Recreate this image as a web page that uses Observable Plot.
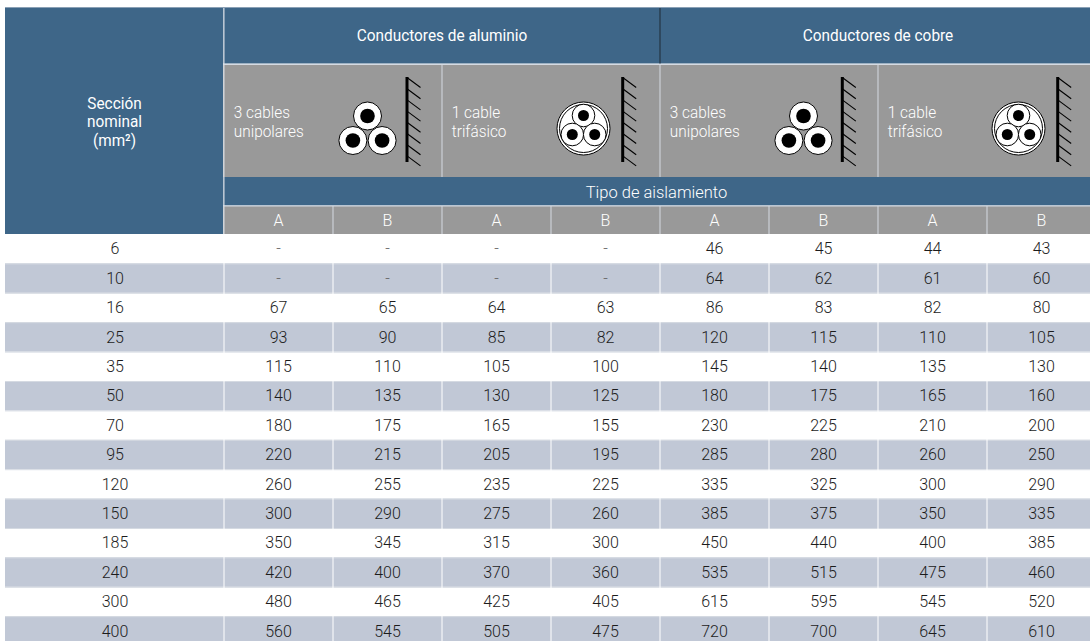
<!DOCTYPE html>
<html lang="es"><head><meta charset="utf-8">
<style>html,body{margin:0;padding:0;background:#fff;overflow:hidden}svg{display:block}</style>
<script src="https://cdn.jsdelivr.net/npm/d3@7"></script>
<script src="https://cdn.jsdelivr.net/npm/@observablehq/plot@0.6"></script>
</head><body><div id="chart"></div>
<script>
// Data
const sections = [6,10,16,25,35,50,70,95,120,150,185,240,300,400];
const aluminio3A = ["-","-",67,93,115,140,180,220,260,300,350,420,480,560];
const aluminio3B = ["-","-",65,90,110,135,175,215,255,290,345,400,465,545];
const aluminio1A = ["-","-",64,85,105,130,165,205,235,275,315,370,425,505];
const aluminio1B = ["-","-",63,82,100,125,155,195,225,260,300,360,405,475];
const cobre3A = [46,64,86,120,145,180,230,285,335,385,450,535,615,720];
const cobre3B = [45,62,83,115,140,175,225,280,325,375,440,515,595,700];
const cobre1A = [44,61,82,110,135,165,210,260,300,350,400,475,545,645];
const cobre1B = [43,60,80,105,130,160,200,250,290,335,385,460,520,610];
const valueColumns = [aluminio3A,aluminio3B,aluminio1A,aluminio1B,cobre3A,cobre3B,cobre1A,cobre1B];
const insulation = ["A","B","A","B","A","B","A","B"];
const groupTitles = ["Conductores de aluminio","Conductores de cobre"];
const panelLabels = ["3 cables\nunipolares","1 cable\ntrifásico","3 cables\nunipolares","1 cable\ntrifásico"];
const sectionTitle = "Sección\nnominal\n(mm²)";
const subTitle = "Tipo de aislamiento";

// Layout: x in column units (one value column = 1), y in table-row units (first row = 0)
const ROW = 29.4, Y0 = 234, COL = 109, X0 = 223.5;
const uy = px => (px - Y0) / ROW;
const ux = px => (px - X0) / COL;
const BLUE = "#3e6688", GREY = "#999999", BAND = "#c1c8d6", LINE = "#d5dae2", TXT = "#1c1c1c";
const FONT = "Roboto";
const yTitle=[uy(7),uy(63.5)], yPanel=[uy(64.5),uy(177)], yTipo=[uy(177),uy(205.5)], yAB=[uy(206),0];

const rows = sections.map((s,i)=>({s,i}));
const cells = rows.flatMap(r=>valueColumns.map((c,j)=>({v:c[r.i],row:r.i,col:j})));
const panels = [0,1,2,3];

// Icons (offsets relative to panel start, in px)
const wallOff = [183,180.7,182.3,179.7];
const wall = [], hatch = [];
panels.forEach(p=>{
  const x0 = X0 + p*2*COL;
  const w = x0 + wallOff[p];
  wall.push({x:ux(w),y1:uy(77),y2:uy(162)});
  d3.range(8).forEach(k=>{ hatch.push({x1:ux(w),x2:ux(w+13.5),y1:uy(77+k*11.2),y2:uy(87+k*11.2)}); });
});
const unip = [], tri = [], triC = [];
[0,2].forEach(p=>{
  const cx = X0 + p*2*COL + 143.5;
  [[0,115.5],[-14.6,140],[14.6,140]].forEach(([dx,y])=>unip.push({x:ux(cx+dx),y:uy(y)}));
});
[1,3].forEach(p=>{
  const cx = X0 + p*2*COL + (p===1?141.5:140.5);
  triC.push({x:ux(cx),y:uy(128)});
  [[0,115],[-11.2,134],[11.2,134]].forEach(([dx,y])=>tri.push({x:ux(cx+dx),y:uy(y)}));
});

const bandRows = rows.filter(r=>r.i%2===1);
const txt = {fontFamily:FONT};
const light = {fontFamily:FONT, fontWeight:300};

const plot = Plot.plot({
  width:1090, height:641, margin:0,
  x:{domain:[ux(0),ux(1090)],range:[0,1090],axis:null},
  y:{domain:[uy(0),uy(641)],range:[0,641],axis:null},
  style:{background:"#fff"},
  marks:[
    // table bands
    Plot.rectY(bandRows,{x1:ux(5),x2:ux(1095),y1:d=>d.i,y2:d=>d.i+1,fill:BAND}),
    Plot.ruleY(bandRows.flatMap(d=>[d.i,d.i+1]),{x1:ux(5),x2:ux(1090),stroke:LINE,strokeWidth:1}),
    Plot.ruleX(d3.range(0,9),{y1:uy(206),y2:uy(641),stroke:"#fff",strokeWidth:1}),
    // header blocks
    Plot.rect([0],{x1:ux(5),x2:ux(223),y1:yTitle[0],y2:0,fill:BLUE}),
    Plot.rect([0],{x1:0,x2:ux(1095),y1:yTitle[0],y2:yTitle[1],fill:BLUE}),
    Plot.rect([0],{x1:0,x2:ux(1095),y1:yPanel[0],y2:yPanel[1],fill:GREY}),
    Plot.rect([0],{x1:0,x2:ux(1095),y1:yTipo[0],y2:yTipo[1],fill:BLUE}),
    Plot.rect([0],{x1:0,x2:ux(1095),y1:yAB[0],y2:0,fill:GREY}),
    // header lines
    Plot.ruleX([0],{y1:yTitle[0],y2:0,stroke:LINE,strokeWidth:1}),
    Plot.ruleX([4],{y1:yTitle[0],y2:yTitle[1],stroke:"#243444",strokeWidth:1.2}),
    Plot.ruleX([2,4,6],{y1:yPanel[0],y2:yPanel[1],stroke:LINE,strokeWidth:1}),
    Plot.ruleX(d3.range(1,8),{y1:yAB[0],y2:0,stroke:LINE,strokeWidth:1}),
    Plot.ruleY([uy(7)],{x1:ux(5),x2:ux(1090),stroke:"#8aa0b5",strokeWidth:1}),
    Plot.ruleY([uy(64)],{x1:0,x2:ux(1090),stroke:LINE,strokeWidth:1}),
    Plot.ruleY([uy(205.5)],{x1:0,x2:ux(1090),stroke:LINE,strokeWidth:1}),
    // header text
    Plot.text([sectionTitle],{x:ux(114),y:uy(121),text:d=>d,fill:"#fff",fontSize:16.5,lineHeight:1.13,...txt}),
    Plot.text(groupTitles,{x:(d,i)=>i?6:2,y:uy(35.5),text:d=>d,fill:"#fff",fontSize:17,...txt}),
    Plot.text(panelLabels,{x:(d,i)=>i*2+0.09,y:uy(121),text:d=>d,textAnchor:"start",fill:"#fff",fontSize:16.5,lineHeight:1.13,...light}),
    Plot.text([subTitle],{x:ux(656),y:uy(192),text:d=>d,fill:"#fff",fontSize:16.5,...light}),
    Plot.text(insulation,{x:(d,i)=>i+0.5,y:uy(220.5),text:d=>d,fill:"#fff",fontSize:16,...light}),
    // icons
    Plot.ruleX(wall,{x:"x",y1:"y1",y2:"y2",stroke:"#000",strokeWidth:3}),
    Plot.link(hatch,{x1:"x1",x2:"x2",y1:"y1",y2:"y2",stroke:"#000",strokeWidth:1.1}),
    Plot.dot(unip,{x:"x",y:"y",r:14,fill:"#fff",stroke:"#000",strokeWidth:1}),
    Plot.dot(unip,{x:"x",y:"y",r:7.3,fill:"#000"}),
    Plot.dot(triC,{x:"x",y:"y",r:26.5,fill:"#fff",stroke:"#000",strokeWidth:1}),
    Plot.dot(triC,{x:"x",y:"y",r:24,fill:"#fff",stroke:"#000",strokeWidth:1}),
    Plot.dot(tri,{x:"x",y:"y",r:11.3,fill:"#fff",stroke:"#000",strokeWidth:1}),
    Plot.dot(tri,{x:"x",y:"y",r:5.5,fill:"#000"}),
    // body text
    Plot.text(rows,{x:-1,y:d=>d.i+0.5,text:d=>String(d.s),fill:TXT,fontSize:16,...light}),
    Plot.text(cells,{x:d=>d.col+0.5,y:d=>d.row+0.5,text:d=>String(d.v),fill:d=>d.v==="-"?"#666":TXT,fontSize:16,...light})
  ]
});
document.getElementById("chart").append(plot);

// The source face is narrower than Roboto: condense the header lines, keeping them real text.
const condense = new Map();
groupTitles.forEach(s=>condense.set(s,0.905));
[...panelLabels,sectionTitle].forEach(s=>s.split("\n").forEach(l=>condense.set(l,0.93)));
const applyCondense = () => {
  plot.querySelectorAll("text, tspan").forEach(el=>{
    if (el.tagName==="text" && el.querySelector("tspan")) return;
    const k = condense.get(el.textContent);
    if (!k) return;
    el.removeAttribute("textLength");
    el.setAttribute("textLength",(el.getComputedTextLength()*k).toFixed(1));
    el.setAttribute("lengthAdjust","spacingAndGlyphs");
  });
};
applyCondense();
if (document.fonts && document.fonts.ready) document.fonts.ready.then(applyCondense);
</script></body></html>
